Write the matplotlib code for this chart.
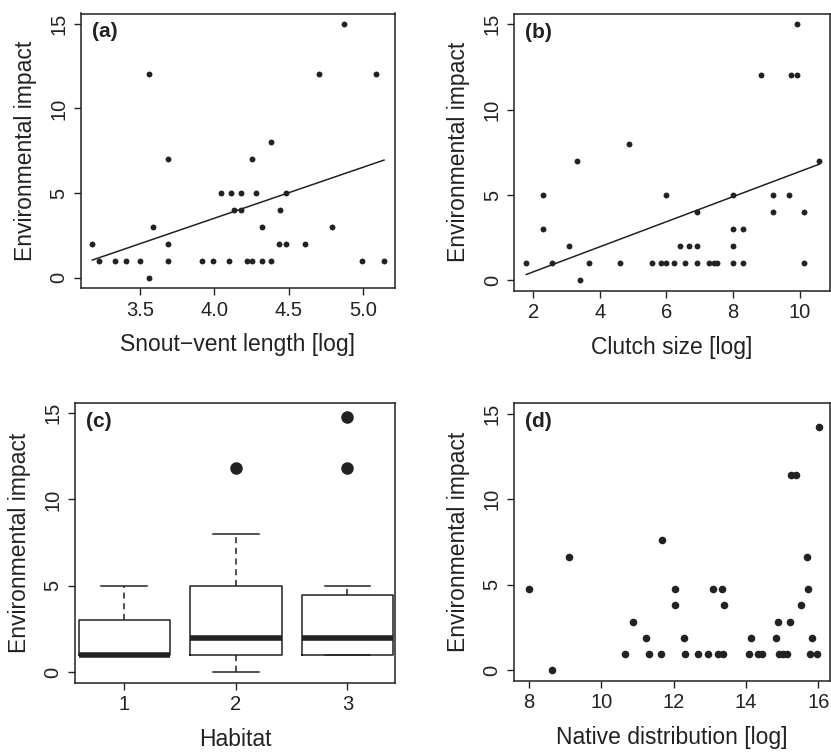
import numpy as np
import matplotlib
matplotlib.use('Agg')
import matplotlib.pyplot as plt

plt.rcParams['font.family'] = ['Liberation Sans', 'DejaVu Sans']

# (a) snout-vent length vs impact
svl_x = [3.179, 3.222, 3.334, 3.404, 3.498, 3.558, 3.558, 3.585, 3.69, 3.69, 3.69,
         3.915, 3.991, 4.045, 4.097, 4.114, 4.13, 4.179, 4.179, 4.22, 4.25, 4.25,
         4.28, 4.32, 4.32, 4.383, 4.383, 4.433, 4.444, 4.482, 4.482, 4.61, 4.704,
         4.791, 4.87, 4.995, 5.089, 5.141]
svl_y = [2, 1, 1, 1, 1, 12, 0, 3, 7, 2, 1,
         1, 1, 5, 1, 5, 4, 5, 4, 1, 7, 1,
         5, 3, 1, 8, 1, 2, 4, 5, 2, 2, 12,
         3, 15, 1, 12, 1]
svl_fit = [3.007, -8.51]      # slope, intercept of the drawn line

# (b) clutch size vs impact
clutch_x = [1.79, 2.30, 2.30, 2.56, 3.08, 3.32, 3.40, 3.68, 4.59, 4.87, 5.55, 5.83,
            6.0, 6.0, 6.22, 6.40, 6.56, 6.68, 6.91, 6.91, 6.91, 7.29, 7.43, 7.51,
            8.0, 8.0, 8.0, 8.0, 8.29, 8.29, 8.85, 9.21, 9.21, 9.68, 9.73, 9.91,
            9.91, 10.12, 10.12, 10.59]
clutch_y = [1, 5, 3, 1, 2, 7, 0, 1, 1, 8, 1, 1,
            1, 5, 1, 2, 1, 2, 1, 2, 4, 1, 1, 1,
            1, 2, 3, 5, 1, 3, 12, 5, 4, 5, 12, 12,
            15, 4, 1, 7]
clutch_fit = [0.734, -0.964]

# (c) habitat boxplots
habitat = [1, 2, 3]
box_q1 = [1, 1, 1]
box_med = [1, 2, 2]
box_q3 = [3, 5, 4.45]
box_lo = [1, 0, 1]
box_hi = [5, 8, 5]
box_out = [[], [11.8], [11.8, 14.8]]

# (d) native distribution vs impact
native_x = [8.01, 8.64, 9.11, 10.65, 10.88, 11.23, 11.31, 11.66, 11.68, 12.05, 12.05,
            12.29, 12.30, 12.67, 12.96, 13.09, 13.23, 13.34, 13.37, 13.40, 14.07,
            14.14, 14.33, 14.44, 14.82, 14.87, 14.92, 15.03, 15.12, 15.22, 15.25,
            15.38, 15.53, 15.69, 15.72, 15.77, 15.83, 15.95, 16.02]
native_y = [4.75, 0, 6.65, 0.95, 2.85, 1.9, 0.95, 0.95, 7.6, 4.75, 3.8,
            1.9, 0.95, 0.95, 0.95, 4.75, 0.95, 4.75, 0.95, 3.8, 0.95,
            1.9, 0.95, 0.95, 1.9, 2.85, 0.95, 0.95, 0.95, 2.85, 11.4,
            11.4, 3.8, 6.65, 4.75, 0.95, 1.9, 0.95, 14.2]

W, H = 831, 754
ink = '#222222'
fig = plt.figure(figsize=(W / 100, H / 100), dpi=100)


def make_axes(l, r, t, b):
    ax = fig.add_axes([l / W, 1 - b / H, (r - l) / W, (b - t) / H])
    for s in ax.spines.values():
        s.set_color(ink)
        s.set_linewidth(1.1)
    ax.tick_params(direction='out', length=5, width=1, colors=ink,
                   labelsize=14.5, pad=4)
    ax.set_ylim(-0.6, 15.6)
    ax.set_yticks([0, 5, 10, 15])
    for lab in ax.get_yticklabels():
        lab.set_rotation(90)
        lab.set_va('center')
    ax.set_ylabel('Environmental impact', fontsize=16.5, color=ink, labelpad=9)
    return ax


def panel_label(ax, txt):
    ax.text(0.035, 0.968, txt, transform=ax.transAxes, ha='left', va='top',
            fontsize=15, fontweight='bold', color=ink)


# (a)
ax = make_axes(80.7, 395, 13.5, 288)
ax.scatter(svl_x, svl_y, s=18, color=ink, zorder=3, linewidths=0)
xs = np.array([min(svl_x), max(svl_x)])
ax.plot(xs, svl_fit[0] * xs + svl_fit[1], color=ink, lw=1.1)
ax.set_xlim(3.101, 5.215)
ax.set_xticks([3.5, 4.0, 4.5, 5.0])
ax.set_xticklabels(['3.5', '4.0', '4.5', '5.0'])
ax.set_xlabel('Snout\u2212vent length [log]', fontsize=16.5, color=ink, labelpad=10)
panel_label(ax, '(a)')

# (b)
ax = make_axes(514.3, 830, 14, 290.7)
ax.scatter(clutch_x, clutch_y, s=18, color=ink, zorder=3, linewidths=0)
xs = np.array([min(clutch_x), max(clutch_x)])
ax.plot(xs, clutch_fit[0] * xs + clutch_fit[1], color=ink, lw=1.1)
ax.set_xlim(1.43, 10.91)
ax.set_xticks([2, 4, 6, 8, 10])
ax.set_xlabel('Clutch size [log]', fontsize=16.5, color=ink, labelpad=10)
panel_label(ax, '(b)')

# (c)
ax = make_axes(75, 395, 402.7, 682.7)
stats = []
for i in range(len(habitat)):
    stats.append({'q1': box_q1[i], 'med': box_med[i], 'q3': box_q3[i],
                  'whislo': box_lo[i], 'whishi': box_hi[i], 'fliers': box_out[i]})
ax.bxp(stats, positions=habitat, widths=0.82, showfliers=True,
       boxprops=dict(color=ink, linewidth=1.1),
       medianprops=dict(color=ink, linewidth=4, solid_capstyle='butt'),
       whiskerprops=dict(color=ink, linewidth=1.1, linestyle=(0, (4, 3))),
       capprops=dict(color=ink, linewidth=1.1),
       flierprops=dict(marker='o', markerfacecolor=ink, markeredgecolor=ink,
                       markersize=8))
ax.set_xlim(0.558, 3.426)
ax.set_xticks(habitat)
ax.set_xticklabels([str(h) for h in habitat])
ax.set_xlabel('Habitat', fontsize=16.5, color=ink, labelpad=10)
panel_label(ax, '(c)')

# (d)
ax = make_axes(513.7, 830, 403.3, 680.7)
ax.scatter(native_x, native_y, s=30, color=ink, zorder=3, linewidths=0)
ax.set_xlim(7.58, 16.32)
ax.set_xticks([8, 10, 12, 14, 16])
ax.set_xlabel('Native distribution [log]', fontsize=16.5, color=ink, labelpad=10)
panel_label(ax, '(d)')

fig.savefig('out.png', dpi=100)
